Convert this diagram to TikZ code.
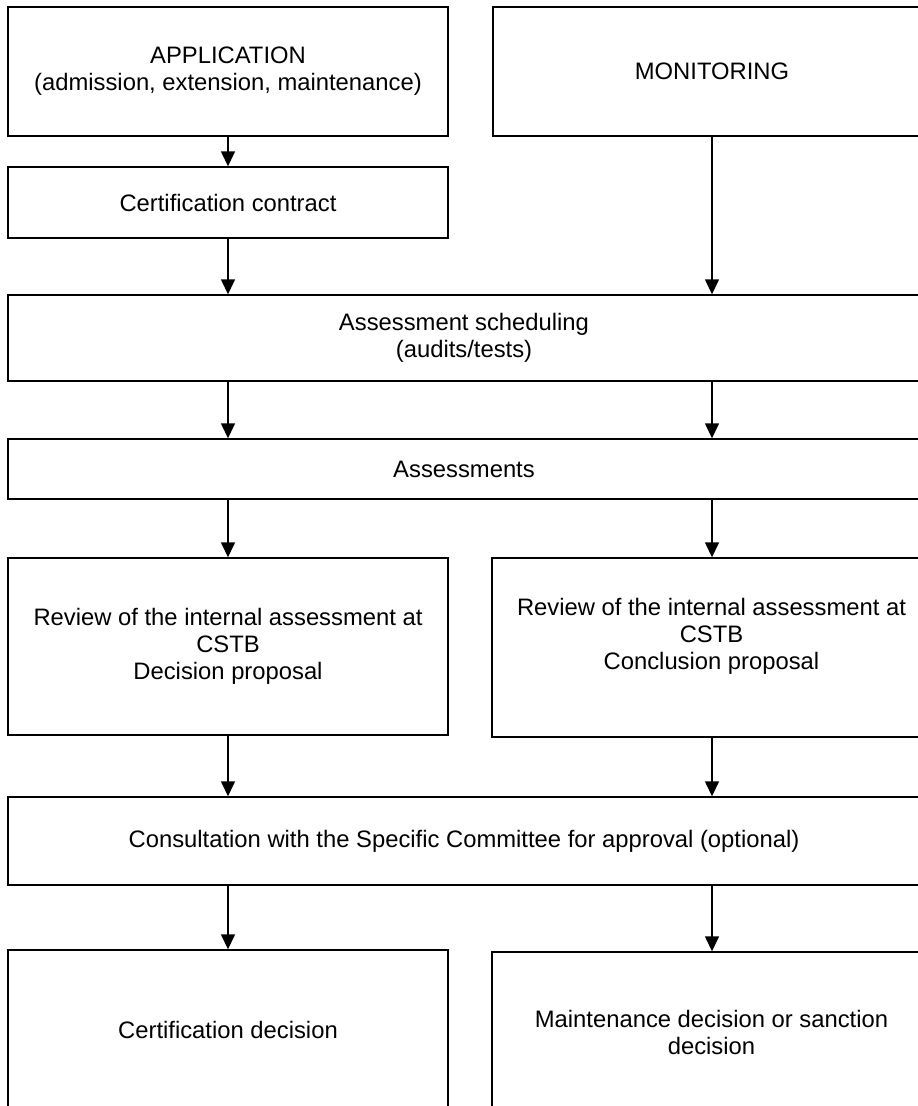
\documentclass[tikz,border=0pt]{standalone}
\usepackage{fontspec}
\setmainfont{Liberation Sans}
\usetikzlibrary{arrows.meta}
\tikzset{
  box/.style={draw=black, line width=1.4pt, fill=white, inner sep=0pt,
    align=center, font=\fontsize{23.8}{27}\selectfont, text=black},
  flow/.style={line width=1.4pt, -{Triangle[width=14pt,length=15pt]}}
}
\begin{document}
\begin{tikzpicture}[x=1pt,y=-1pt]
\useasboundingbox (0,0) rectangle (918,1106);
\clip (0,0) rectangle (918,1106);
\fill[white] (0,0) rectangle (918,1106);
\node[box, minimum width=440pt, minimum height=129pt] (app) at (228,71.5)
  {APPLICATION\\(admission, extension, maintenance)};
\node[box, minimum width=438pt, minimum height=129pt] (mon) at (712,71.5)
  {MONITORING};
\node[box, minimum width=440pt, minimum height=71pt] (contract) at (228,202.5)
  {Certification contract};
\node[box, minimum width=912pt, minimum height=86pt] (sched) at (464,338)
  {Assessment scheduling\\(audits/tests)};
\node[box, minimum width=912pt, minimum height=60pt] (assess) at (464,469)
  {Assessments};
\node[box, minimum width=440pt, minimum height=177pt] (revL) at (228,646.5)
  {Review of the internal assessment at\\CSTB\\Decision proposal};
\node[box, minimum width=439pt, minimum height=179pt] (revR) at (711.5,647.5)
  {Review of the internal assessment at\\CSTB\\Conclusion proposal\\\mbox{}};
\node[box, minimum width=912pt, minimum height=88pt] (consult) at (464,841)
  {Consultation with the Specific Committee for approval (optional)};
\node[box, minimum width=440pt, minimum height=160pt] (decL) at (228,1030)
  {Certification decision};
\node[box, minimum width=439pt, minimum height=160pt] (decR) at (711.5,1032)
  {Maintenance decision or sanction\\decision};
% connectors
\draw[flow] (app.south) -- (contract.north);
\draw[flow] (contract.south) -- (sched.north -| contract.south);
\draw[flow] (mon.south) -- (sched.north -| mon.south);
\draw[flow] (sched.south -| app.south) -- (assess.north -| app.south);
\draw[flow] (sched.south -| mon.south) -- (assess.north -| mon.south);
\draw[flow] (assess.south -| app.south) -- (revL.north -| app.south);
\draw[flow] (assess.south -| mon.south) -- (revR.north -| mon.south);
\draw[flow] (revL.south -| app.south) -- (consult.north -| app.south);
\draw[flow] (revR.south -| mon.south) -- (consult.north -| mon.south);
\draw[flow] (consult.south -| app.south) -- (decL.north -| app.south);
\draw[flow] (consult.south -| mon.south) -- (decR.north -| mon.south);
\end{tikzpicture}
\end{document}
